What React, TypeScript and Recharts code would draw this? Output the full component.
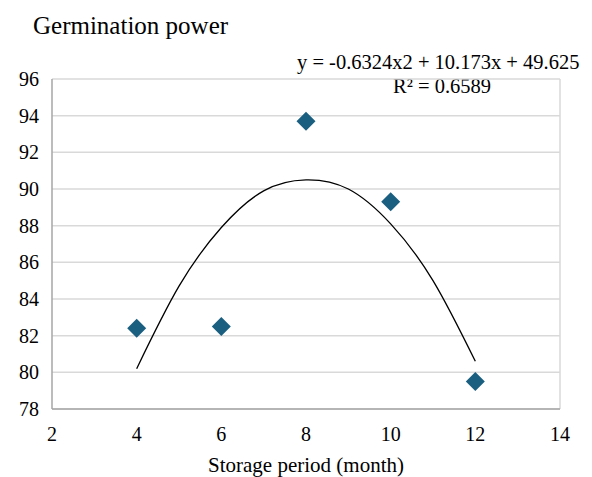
import React from 'react';
import { ComposedChart, Line, Scatter, XAxis, YAxis, CartesianGrid, ReferenceLine } from 'recharts';

const months = [4, 6, 8, 10, 12];
const germination = [82.4, 82.5, 93.7, 89.3, 79.5];

// trendline values
const trendMonths = [4, 5, 6, 7, 8, 9, 10, 11, 12];
const trendValues = [80.2, 84.7, 87.9, 89.9, 90.5, 90.0, 88.1, 85.0, 80.6];

const xTicks = [2, 4, 6, 8, 10, 12, 14];
const yTicks = [78, 80, 82, 84, 86, 88, 90, 92, 94, 96];

const points = months.map((x, i) => ({ x, y: germination[i] }));
const trend = trendMonths.map((x, i) => ({ x, y: trendValues[i] }));

const font = 'Liberation Serif, Times New Roman, serif';

const Diamond = (props: any) => {
    const { cx, cy } = props;
    const r = 9.5;
    return (
        <polygon
            points={`${cx},${cy - r} ${cx + r},${cy} ${cx},${cy + r} ${cx - r},${cy}`}
            fill="#1a5f80"
        />
    );
};

const renderXTick = (props: any) => {
    const { x, y, payload } = props;
    return (
        <text key={`xt-${payload.value}`} x={x} y={y + 24} textAnchor="middle" fontFamily={font} fontSize={20} fill="#000">
            {payload.value}
        </text>
    );
};

const renderYTick = (props: any) => {
    const { x, y, payload } = props;
    return (
        <text key={`yt-${payload.value}`} x={x - 5} y={y + 7} textAnchor="end" fontFamily={font} fontSize={20} fill="#000">
            {payload.value}
        </text>
    );
};

export default function App() {
    return (
        <div style={{ position: 'absolute', left: 0, top: 0, width: 592, height: 477, background: '#fff', fontFamily: font }}>
            <div style={{ position: 'absolute', left: 33, top: 11, fontSize: 25, lineHeight: '30px', color: '#000' }}>Germination power</div>
            <div style={{ position: 'absolute', left: 297, top: 50, fontSize: 20.5, lineHeight: '24px', color: '#000', whiteSpace: 'nowrap' }}>
                y = -0.6324x2 + 10.173x + 49.625
            </div>
            <div style={{ position: 'absolute', left: 393, top: 74, fontSize: 20.5, lineHeight: '24px', color: '#000', whiteSpace: 'nowrap' }}>
                R² = 0.6589
            </div>
            <ComposedChart
                width={592}
                height={477}
                margin={{ top: 79, right: 32, bottom: 8, left: 0 }}
                style={{ fontFamily: font }}
            >
                <CartesianGrid horizontal vertical={false} stroke="#d9d9d9" strokeWidth={1.5} />
                <XAxis
                    type="number"
                    dataKey="x"
                    domain={[2, 14]}
                    ticks={xTicks}
                    allowDataOverflow
                    height={60}
                    stroke="#a6a6a6"
                    strokeWidth={1.5}
                    tickLine={false}
                    tick={renderXTick}
                    label={{ value: 'Storage period (month)', position: 'insideBottom', offset: -3, fill: '#000', fontSize: 21, fontFamily: font }}
                />
                <YAxis
                    type="number"
                    domain={[78, 96]}
                    ticks={yTicks}
                    allowDataOverflow
                    width={52}
                    stroke="#a6a6a6"
                    strokeWidth={1.5}
                    tickLine={false}
                    tick={renderYTick}
                />
                <ReferenceLine x={14} stroke="#d9d9d9" strokeWidth={1.5} />
                <Line
                    data={trend}
                    dataKey="y"
                    type="natural"
                    stroke="#000"
                    strokeWidth={1.3}
                    dot={false}
                    isAnimationActive={false}
                />
                <Scatter data={points} dataKey="y" shape={<Diamond />} isAnimationActive={false} />
            </ComposedChart>
        </div>
    );
}
